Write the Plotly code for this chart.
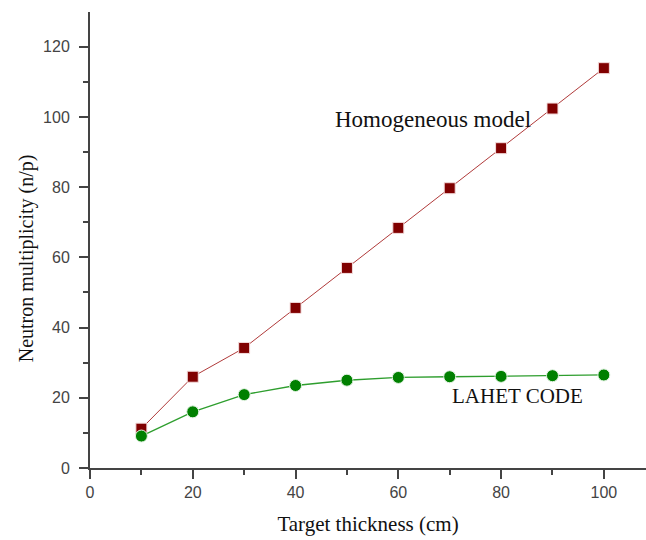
import plotly.graph_objects as go

# Target thickness (cm)
thickness = [10, 20, 30, 40, 50, 60, 70, 80, 90, 100]
# Neutron multiplicity (n/p)
homogeneous = [11.2, 26.0, 34.2, 45.6, 57.0, 68.4, 79.7, 91.1, 102.4, 113.9]
lahet = [9.1, 16.0, 20.9, 23.5, 25.0, 25.8, 26.0, 26.1, 26.3, 26.5]

x_ticks = [0, 20, 40, 60, 80, 100]
y_ticks = [0, 20, 40, 60, 80, 100, 120]

axis_color = "#444444"
serif = "Liberation Serif, Times New Roman, serif"
tick_font = dict(family="Liberation Sans, Arial, sans-serif", size=16, color="#444444")

fig = go.Figure()
fig.add_trace(go.Scatter(
    x=thickness, y=homogeneous, mode="lines+markers",
    line=dict(color="#b03a3a", width=1),
    marker=dict(symbol="square", size=11, color="#800000",
                line=dict(color="#f4dcdc", width=1)),
    showlegend=False,
))
fig.add_trace(go.Scatter(
    x=thickness, y=lahet, mode="lines+markers",
    line=dict(color="#2e9e2e", width=1.3),
    marker=dict(symbol="circle", size=12, color="#008000",
                line=dict(color="#e0f2e0", width=1)),
    showlegend=False,
))

fig.add_annotation(x=66.7, y=99.3, text="Homogeneous model", showarrow=False,
                   xanchor="center", yanchor="middle",
                   font=dict(family=serif, size=23, color="#111111"))
fig.add_annotation(x=83.1, y=20.5, text="LAHET CODE", showarrow=False,
                   xanchor="center", yanchor="middle",
                   font=dict(family=serif, size=21, color="#111111"))

# y-axis title, placed as a rotated label left of the tick labels
fig.add_annotation(xref="paper", yref="paper", x=-0.115, y=0.46,
                   text="Neutron multiplicity (n/p)", showarrow=False, textangle=-90,
                   xanchor="center", yanchor="middle",
                   font=dict(family=serif, size=20, color="#111111"))

fig.update_layout(
    width=646, height=540,
    margin=dict(l=90, r=0, t=12, b=72),
    paper_bgcolor="white", plot_bgcolor="white",
    xaxis=dict(
        range=[0, 108.2], tickvals=x_ticks, showgrid=False, zeroline=False,
        showline=True, linecolor=axis_color, linewidth=2,
        ticks="outside", ticklen=9, tickcolor=axis_color, tickwidth=1.5,
        minor=dict(tickvals=[10, 30, 50, 70, 90], ticks="outside", ticklen=5,
                   tickcolor=axis_color, tickwidth=1.5),
        tickfont=tick_font,
        title=dict(text="Target thickness (cm)", standoff=16,
                   font=dict(family=serif, size=21, color="#111111")),
    ),
    yaxis=dict(
        range=[0, 129.9], tickvals=y_ticks, showgrid=False, zeroline=False,
        showline=True, linecolor=axis_color, linewidth=2,
        ticks="outside", ticklen=9, tickcolor=axis_color, tickwidth=1.5,
        ticklabelstandoff=6,
        minor=dict(tickvals=[10, 30, 50, 70, 90, 110, 130], ticks="outside", ticklen=5,
                   tickcolor=axis_color, tickwidth=1.5),
        tickfont=tick_font,
    ),
)

fig.write_html("out.html")
